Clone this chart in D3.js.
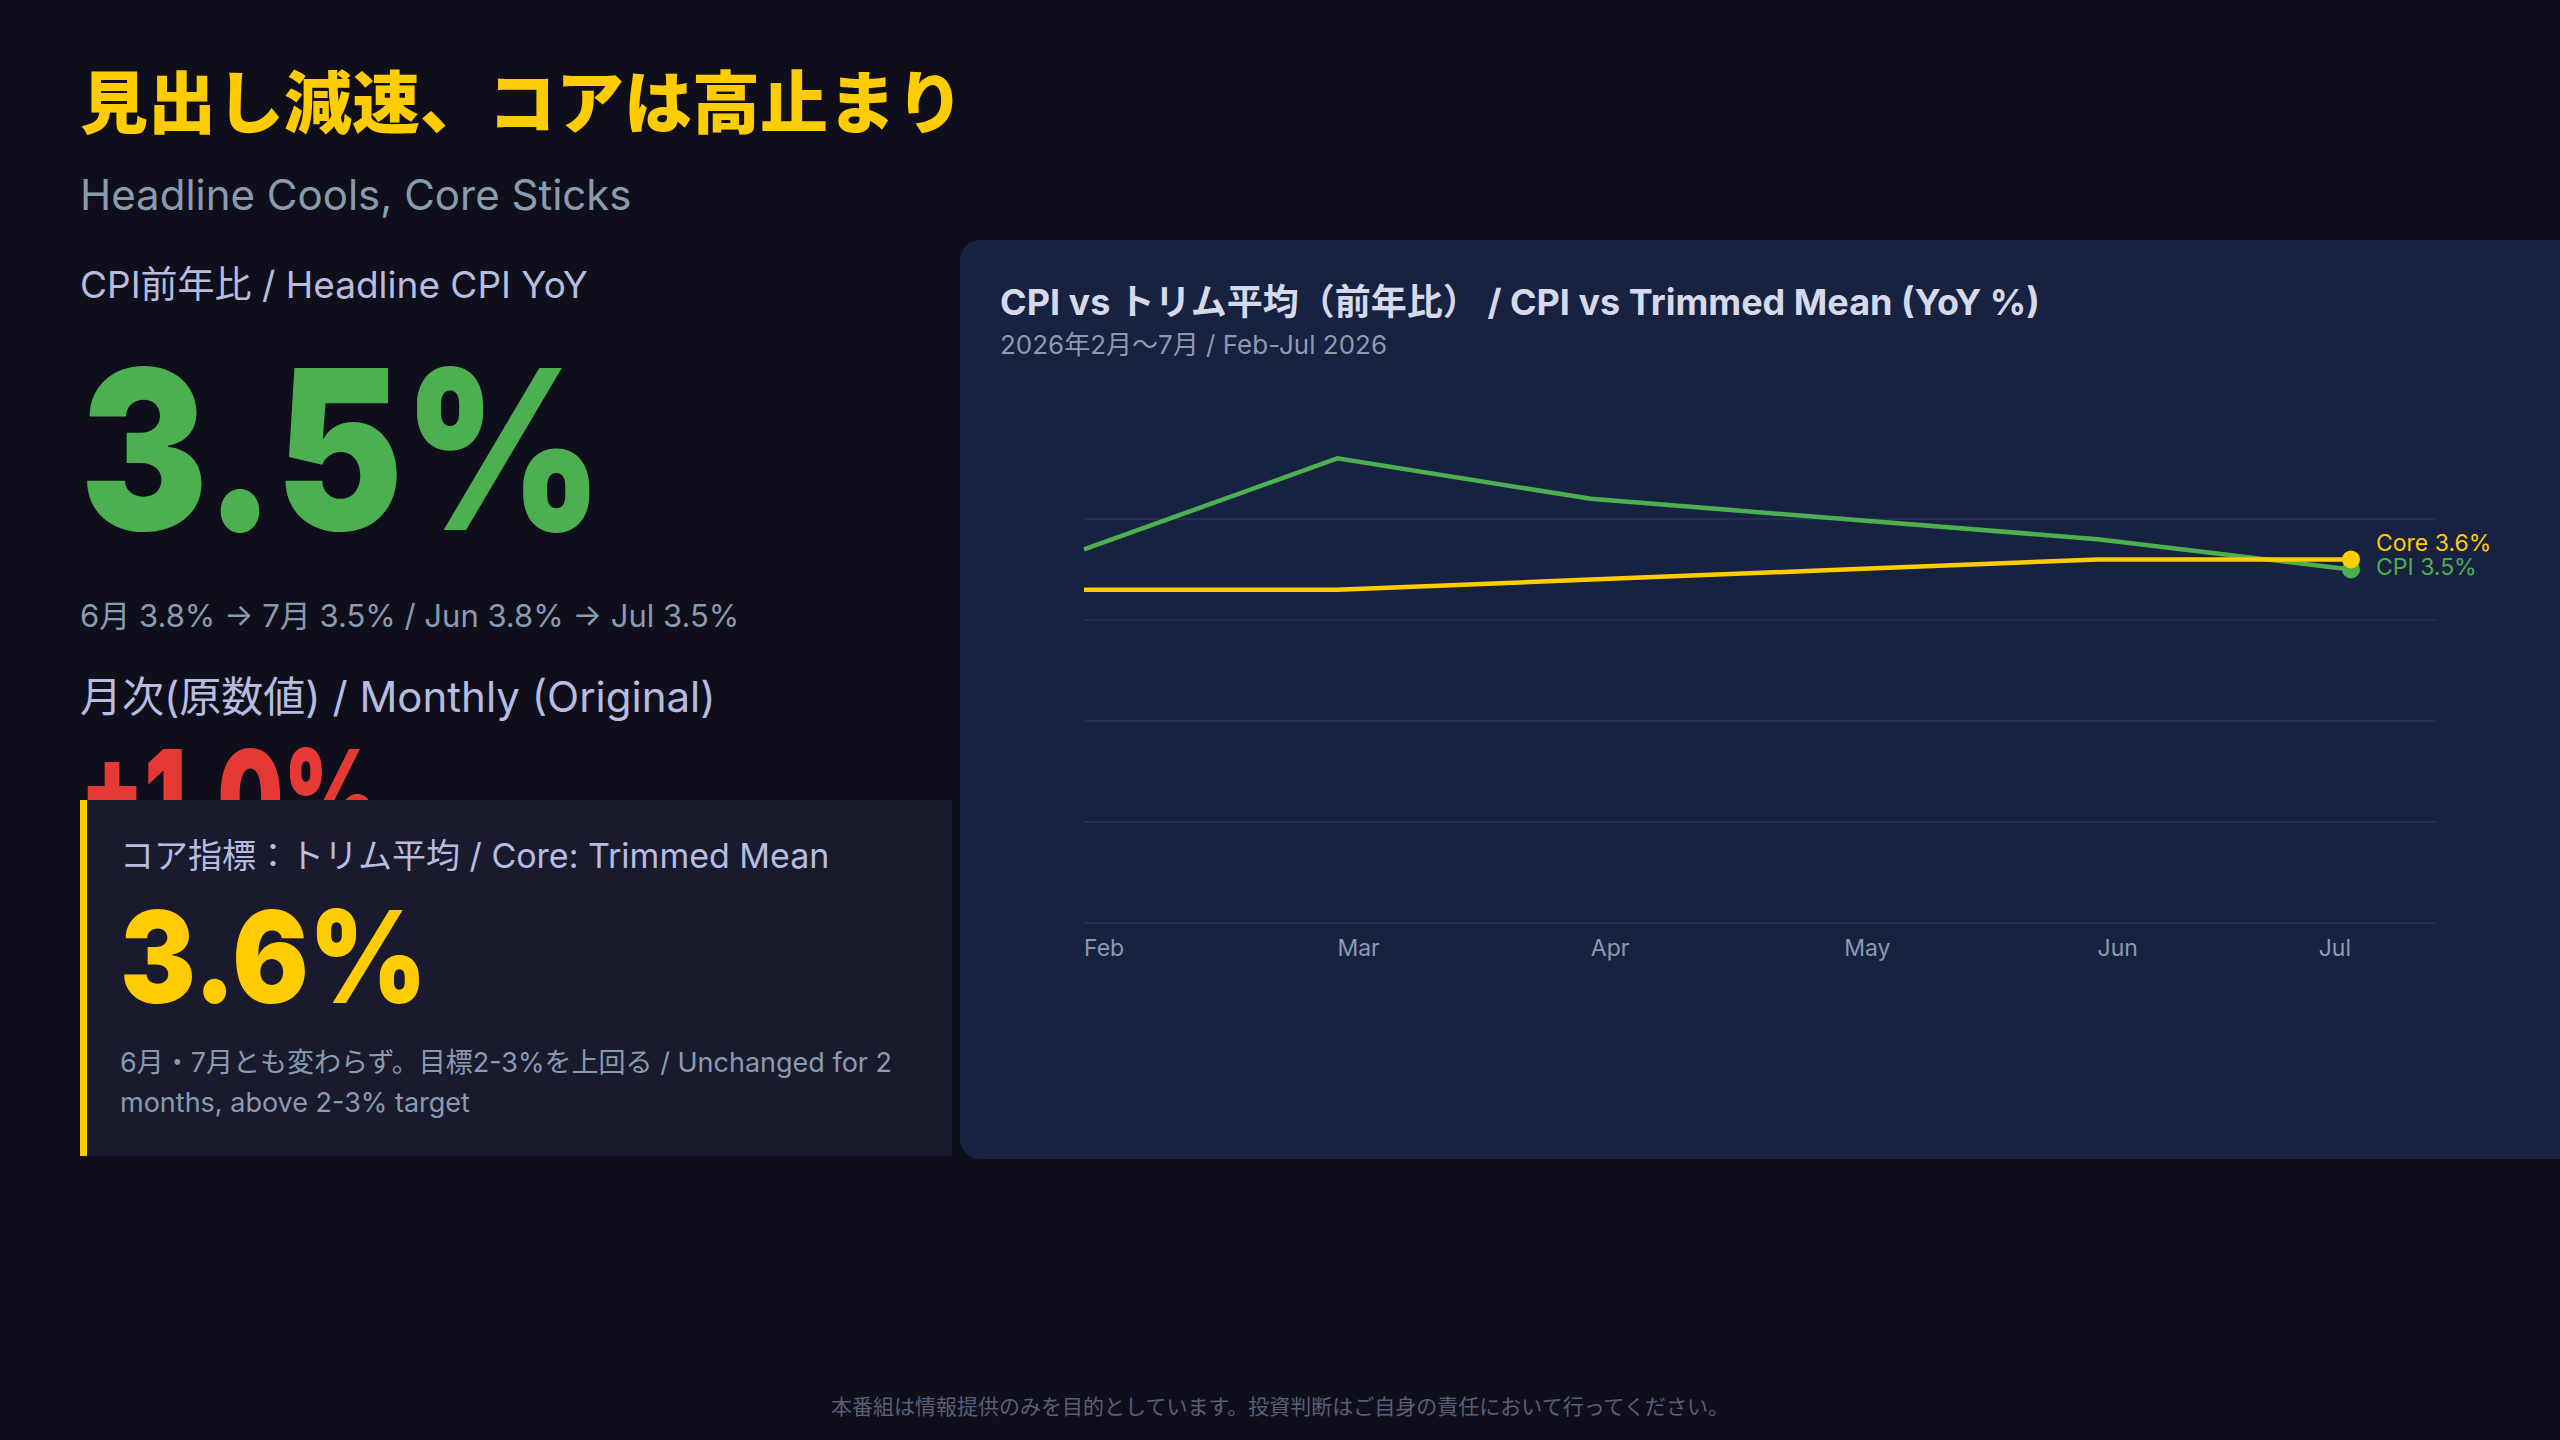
<!DOCTYPE html>
<html><head><meta charset="utf-8">
<script src="https://cdn.jsdelivr.net/npm/d3@7"></script>
<style>
html,body{margin:0;padding:0;background:#0f0f1c;}
svg{display:block;}
text{font-family:Inter,"Noto Sans CJK JP",sans-serif;}
</style></head><body>
<svg id="c" width="2560" height="1440"></svg>
<script>
const months = ["Feb","Mar","Apr","May","Jun","Jul"];
const cpiValues = [3.7, 4.6, 4.2, 4.0, 3.8, 3.5];
const coreValues = [3.3, 3.3, 3.4, 3.5, 3.6, 3.6];
const gridTicks = [0,1,2,3,4];

const svg = d3.select("#c");
const JP = '"Noto Sans CJK JP",Inter,sans-serif';
svg.append("rect").attr("width",2560).attr("height",1440).attr("fill","#0f0f1c");
svg.append("defs").append("clipPath").attr("id","clipTop").append("rect")
  .attr("x",0).attr("y",0).attr("width",960).attr("height",800);

function t(x,y,s,size,fill,weight,family,anchor,parent){
  return (parent||svg).append("text").attr("x",x).attr("y",y).text(s).attr("font-size",size)
    .attr("fill",fill).attr("font-weight",weight||400).attr("font-family",family||JP)
    .attr("text-anchor",anchor||"start");
}
t(80,128,"見出し減速、コアは高止まり",68,"#ffcc00",900);
t(80,210,"Headline Cools, Core Sticks",42,"#8a9bb0",400,"Inter");
t(80,298,"CPI前年比 / Headline CPI YoY",37,"#b8bce0",400);
t(80,530,"3.5%",222,"#4caf50",900,"Inter").attr("textLength",523).attr("lengthAdjust","spacingAndGlyphs");
t(80,627,"6月 3.8% → 7月 3.5% / Jun 3.8% → Jul 3.5%",31,"#8a9bb0",400);
t(80,712,"月次(原数値) / Monthly (Original)",42,"#b8bce0",400);
const clipG = svg.append("g").attr("clip-path","url(#clipTop)");
t(80,842,"+1.0%",128,"#e53935",900,"Inter","start",clipG).attr("textLength",300).attr("lengthAdjust","spacingAndGlyphs");

// core card
svg.append("rect").attr("x",80).attr("y",800).attr("width",872).attr("height",356).attr("fill","#191a2e");
svg.append("rect").attr("x",80).attr("y",800).attr("width",7).attr("height",356).attr("fill","#ffcc00");
t(120,868,"コア指標：トリム平均 / Core: Trimmed Mean",34,"#b8bce0",400);
t(120,1003,"3.6%",128,"#ffcc00",900,"Inter").attr("textLength",307).attr("lengthAdjust","spacingAndGlyphs");
t(120,1072,"6月・7月とも変わらず。目標2-3%を上回る / Unchanged for 2",27,"#8a9bb0",400);
t(120,1112,"months, above 2-3% target",27,"#8a9bb0",400);

// chart panel
svg.append("rect").attr("x",960).attr("y",240).attr("width",1620).attr("height",919).attr("rx",20).attr("fill","#172140");
t(1000,315,"CPI vs トリム平均（前年比） / CPI vs Trimmed Mean (YoY %)",36,"#d6d8ec",700);
t(1000,354,"2026年2月〜7月 / Feb-Jul 2026",26,"#8a9bb0",400);

const x = d3.scalePoint().domain(months).range([1084,2351]);
const y = d3.scaleLinear().domain([0,1]).range([923,822]);
const g = svg.append("g");
g.selectAll("line.grid").data(gridTicks).enter().append("line")
  .attr("x1",1084).attr("x2",2435).attr("y1",d=>y(d)).attr("y2",d=>y(d))
  .attr("stroke","#2c3653").attr("stroke-width",1.5);
g.selectAll("text.xl").data(months).enter().append("text")
  .attr("x",d=>x(d)).attr("y",956).text(d=>d).attr("font-size",23).attr("fill","#8a9bb0")
  .attr("text-anchor",(d,i)=>i===months.length-1?"end":"start");

const line = d3.line().x((d,i)=>x(months[i])).y(d=>y(d));
g.append("path").datum(cpiValues).attr("d",line).attr("fill","none").attr("stroke","#4caf50").attr("stroke-width",4.5);
g.append("path").datum(coreValues).attr("d",line).attr("fill","none").attr("stroke","#ffcc00").attr("stroke-width",4.5);
const last = months.length-1;
g.append("circle").attr("cx",x(months[last])).attr("cy",y(cpiValues[last])).attr("r",9).attr("fill","#4caf50");
g.append("circle").attr("cx",x(months[last])).attr("cy",y(coreValues[last])).attr("r",9).attr("fill","#ffcc00");
t(2376,551,"Core "+coreValues[last]+"%",23,"#ffcc00",400,"Inter");
t(2376,575,"CPI "+cpiValues[last]+"%",23,"#4caf50",400,"Inter");

t(1280,1414,"本番組は情報提供のみを目的としています。投資判断はご自身の責任において行ってください。",21,"#5a5f78",400,JP,"middle");
</script></body></html>
